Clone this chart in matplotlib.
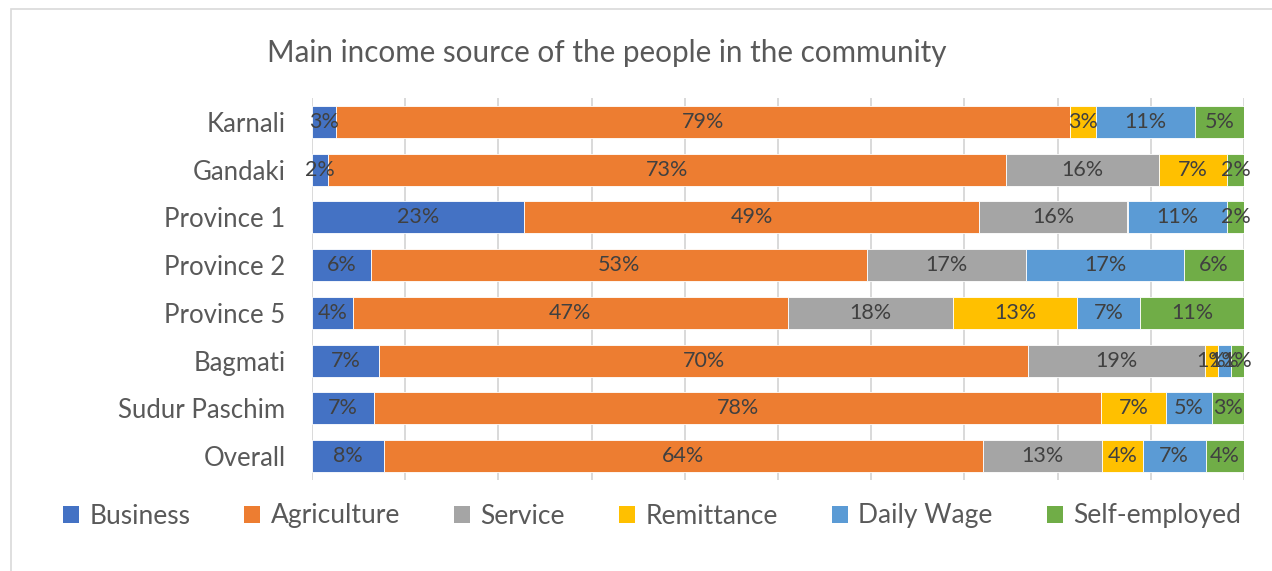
import numpy as np
import matplotlib.pyplot as plt
from matplotlib.patches import Patch, Rectangle

plt.rcParams['font.family'] = ['Lato', 'DejaVu Sans']

regions = ['Karnali', 'Gandaki', 'Province 1', 'Province 2', 'Province 5',
           'Bagmati', 'Sudur Paschim', 'Overall']
sources = ['Business', 'Agriculture', 'Service', 'Remittance', 'Daily Wage', 'Self-employed']
colors = ['#4472C4', '#ED7D31', '#A5A5A5', '#FFC000', '#5B9BD5', '#70AD47']

# share of respondents (%) per province, one list per income source
business      = [2.6, 1.7, 22.7, 6.3, 4.4, 7.2, 6.7, 7.7]
agriculture   = [78.8, 72.7, 48.9, 53.2, 46.7, 69.6, 78.0, 64.4]
service       = [0, 16.4, 15.9, 17.1, 17.7, 18.9, 0, 12.8]
remittance    = [2.8, 7.3, 0, 0, 13.4, 1.4, 6.9, 4.3]
daily_wage    = [10.6, 0, 10.7, 17.0, 6.7, 1.4, 5.0, 6.8]
self_employed = [5.3, 1.8, 1.8, 6.4, 11.2, 1.4, 3.4, 4.1]

data = np.array([business, agriculture, service, remittance, daily_wage, self_employed])
share = data / data.sum(axis=0) * 100  # 100% stacked

W, H = 1272, 571
fig = plt.figure(figsize=(W / 100, H / 100), dpi=100)
ax = fig.add_axes([312 / W, 1 - 480 / H, (1244 - 312) / W, (480 - 98) / H])

y = np.arange(len(regions))
left = np.zeros(len(regions))
for i, name in enumerate(sources):
    ax.barh(y, share[i], left=left, height=0.67, color=colors[i],
            edgecolor='white', linewidth=0.6, zorder=2)
    for j in range(len(regions)):
        if data[i, j] > 0:
            ax.text(left[j] + share[i, j] / 2, y[j], f'{data[i, j]:.0f}%',
                    ha='center', va='center', fontsize=15.5, color='#404040', zorder=3)
    left += share[i]

ax.set_xlim(0, 100)
ax.set_ylim(len(regions) - 0.5, -0.5)
ax.set_xticks(np.arange(0, 101, 10))
ax.set_xticklabels([])
ax.tick_params(axis='x', length=0)
ax.grid(axis='x', color='#d9d9d9', linewidth=1.4, zorder=0)
ax.set_yticks(y)
ax.set_yticklabels(regions, fontsize=18.5, color='#595959')
ax.tick_params(axis='y', length=0, pad=19)
for s in ax.spines.values():
    s.set_visible(False)

fig.text(607 / W, 1 - 53 / H, 'Main income source of the people in the community',
         ha='center', va='center', fontsize=21.3, color='#595959')

handles = [Patch(facecolor=c, edgecolor='none') for c in colors]
fig.legend(handles, sources, loc='center', bbox_to_anchor=(652 / W, 1 - 516 / H),
           ncol=6, frameon=False, fontsize=19, labelcolor='#595959',
           handlelength=0.6, handleheight=0.6, handletextpad=0.4,
           columnspacing=2.05, borderpad=0, borderaxespad=0)

# chart border
fig.add_artist(Rectangle((11 / W, -0.1), 1.2, 1 - 9 / H + 0.1, transform=fig.transFigure,
                         fill=False, edgecolor='#d9d9d9', linewidth=1.2))

plt.savefig('out.png', dpi=100)
